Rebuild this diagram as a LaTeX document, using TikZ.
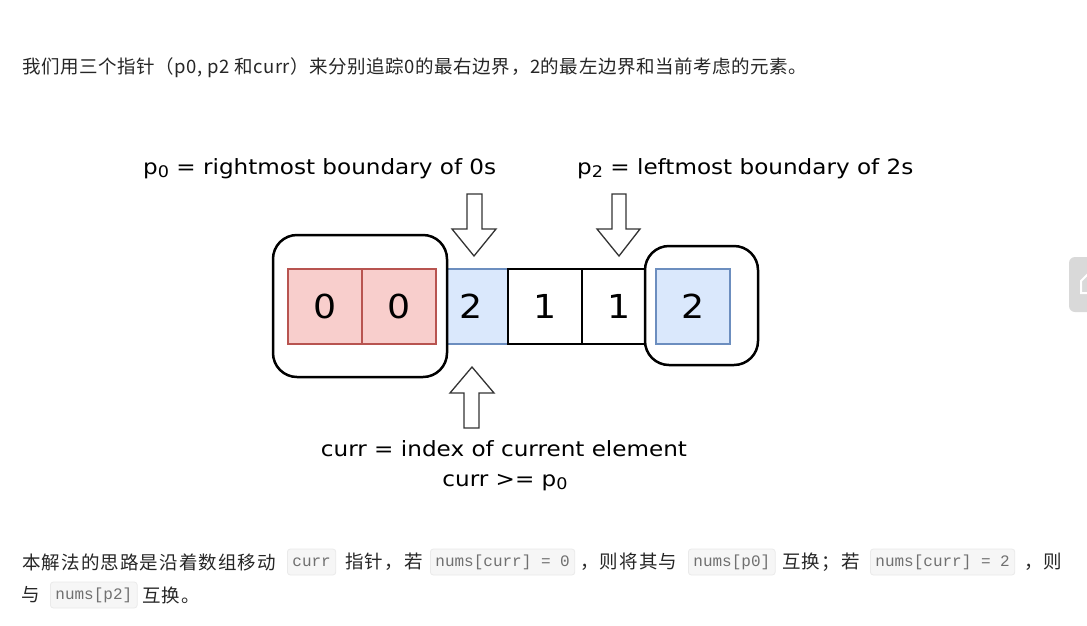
\documentclass[tikz,border=0pt]{standalone}
\usepackage{fontspec}
\setmainfont{DejaVu Sans}
\newfontfamily\cjk[LetterSpace=3]{Noto Sans CJK SC}
\newfontfamily\cjkwide[LetterSpace=6]{Noto Sans CJK SC}
\newfontfamily\codefont{Liberation Mono}
\newfontfamily\labfont[FakeStretch=1.1]{DejaVu Sans}
\newcommand\lsub[1]{\raisebox{-3pt}{\fontsize{16}{16}\selectfont #1}}
\definecolor{rfill}{HTML}{F8CECC}
\definecolor{rdraw}{HTML}{B85450}
\definecolor{bfill}{HTML}{DAE8FC}
\definecolor{bdraw}{HTML}{6C8EBF}
\definecolor{txt}{HTML}{262626}
\definecolor{codetxt}{HTML}{707070}
\definecolor{codebg}{HTML}{F6F6F6}
\definecolor{codeborder}{HTML}{EAEAEA}
\definecolor{arrowc}{HTML}{333333}
\definecolor{btn}{HTML}{D9D9D9}
\begin{document}
\begin{tikzpicture}[x=1pt,y=-1pt,
  cell/.style={draw, line width=1.5pt, minimum width=74pt, minimum height=75pt, inner sep=0pt,
    font=\labfont\fontsize{33}{33}\selectfont},
  redcell/.style={cell, fill=rfill, draw=rdraw},
  bluecell/.style={cell, fill=bfill, draw=bdraw},
  whitecell/.style={cell, fill=white, draw=black},
  frame/.style={draw=black, line width=2.5pt, fill=white, rounded corners=24pt},
  ptr/.style={draw=arrowc, line width=1.3pt, fill=white, line join=miter},
  lbl/.style={font=\labfont\fontsize{21}{24}\selectfont, inner sep=0pt},
  cn/.style={font=\cjk\fontsize{18.5}{20}\selectfont, text=txt, inner sep=0pt, anchor=west},
  cnb/.style={font=\cjkwide\fontsize{18.5}{20}\selectfont, text=txt, inner sep=0pt, anchor=west},
  code/.style={font=\codefont\fontsize{16}{16}\selectfont, text=codetxt, fill=codebg, draw=codeborder,
    rounded corners=3pt, inner xsep=5pt, inner ysep=0pt, minimum height=26pt, anchor=west, line width=0.8pt}]
\useasboundingbox (0,0) rectangle (1087,625);
\fill[white] (0,0) rectangle (1087,625);

% intro text
\node[cn] (intro) at (22,68) {我们用三个指针（p0, p2 和curr）来分别追踪0的最右边界，2的最左边界和当前考虑的元素。};

% middle cells (partly covered by frames)
\node[bluecell]  (c3) at (471,306.5) {2};
\node[whitecell] (c4) at (545,306.5) {1};
\node[whitecell] (c5) at (619,306.5) {1};

% frames
\draw[frame] (273,235) rectangle (447,377);
\draw[frame] (645,246) rectangle (758,365);

% cells inside frames
\node[redcell]  (c1) at (325,306.5) {0};
\node[redcell]  (c2) at (399,306.5) {0};
\node[bluecell] (c6) at (693,306.5) {2};

% pointer arrows
\draw[ptr] (467,194) -- (482,194) -- (482,229) -- (496,229) -- (474,256) -- (452,229) -- (467,229) -- cycle;
\draw[ptr] (612,194) -- (626,194) -- (626,229) -- (640,229) -- (619,256) -- (597,229) -- (612,229) -- cycle;
\draw[ptr] (464,428) -- (479,428) -- (479,393) -- (494,393) -- (472,367) -- (450,393) -- (464,393) -- cycle;

% labels
\node[lbl, anchor=base west] (lp0) at (143,174) {p\lsub{0} = rightmost boundary of 0s};
\node[lbl, anchor=base west] (lp2) at (577,174) {p\lsub{2} = leftmost boundary of 2s};
\node[lbl, anchor=base] (lc1) at (504,456) {curr = index of current element};
\node[lbl, anchor=base] (lc2) at (505,486) {curr >= p\lsub{0}};

% bottom text
\node[cnb]  (b1) at (22,562)  {本解法的思路是沿着数组移动};
\node[code] (k1) at (287,562) {curr};
\node[cnb]  (b2) at (345,562) {指针，若};
\node[code] (k2) at (430,562) {nums[curr] = 0};
\node[cnb]  (b3) at (580,562) {，则将其与};
\node[code] (k3) at (688,562) {nums[p0]};
\node[cnb]  (b4) at (782,562) {互换；若};
\node[code] (k4) at (870,562) {nums[curr] = 2};
\node[cnb]  (b5) at (1024,562) {，则};
\node[cnb]  (b6) at (21,595)  {与};
\node[code] (k5) at (50,595)  {nums[p2]};
\node[cnb]  (b7) at (142,595) {互换。};

% side button (cut off)
\fill[btn, rounded corners=6pt] (1069,257) rectangle (1100,312);
\draw[white, line width=2pt] (1090,272) -- (1081,281) -- (1081,293) -- (1090,293);
\end{tikzpicture}
\end{document}
